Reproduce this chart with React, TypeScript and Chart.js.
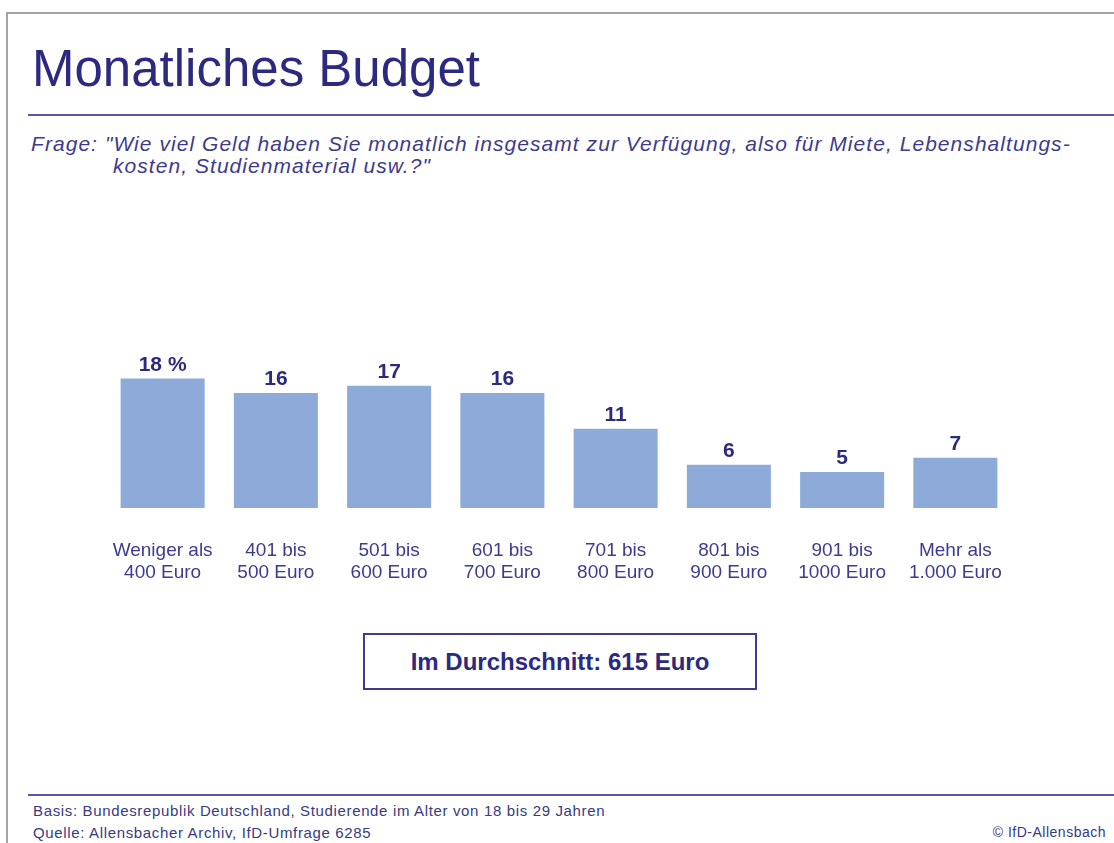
import React, { useEffect, useRef } from "react";
import { Chart, registerables } from "chart.js";

Chart.register(...registerables);

const categories: string[][] = [
  ["Weniger als", "400 Euro"],
  ["401 bis", "500 Euro"],
  ["501 bis", "600 Euro"],
  ["601 bis", "700 Euro"],
  ["701 bis", "800 Euro"],
  ["801 bis", "900 Euro"],
  ["901 bis", "1000 Euro"],
  ["Mehr als", "1.000 Euro"],
];
const shares: number[] = [18, 16, 17, 16, 11, 6, 5, 7];
const valueLabels: string[] = ["18 %", "16", "17", "16", "11", "6", "5", "7"];

const TITLE = "Monatliches Budget";
const QUESTION_1 = 'Frage:  "Wie viel Geld haben Sie monatlich insgesamt zur Verfügung, also für Miete, Lebenshaltungs-';
const QUESTION_2 = 'kosten, Studienmaterial usw.?"';
const AVERAGE = "Im Durchschnitt: 615 Euro";
const BASIS = "Basis: Bundesrepublik Deutschland, Studierende im Alter von 18 bis 29 Jahren";
const SOURCE = "Quelle: Allensbacher Archiv, IfD-Umfrage 6285";
const COPY = "© IfD-Allensbach";

const BAR_COLOR = "#8DAAD9";
const TEXT_DARK = "#2c2a80";
const TEXT_MID = "#3d3b8e";
const LINE_COLOR = "#5a56a6";
const FONT = '"Liberation Sans", Arial, sans-serif';

const valueLabelPlugin = {
  id: "valueLabels",
  afterDatasetsDraw(chart: any) {
    const meta = chart.getDatasetMeta(0);
    const ctx = chart.ctx;
    ctx.save();
    ctx.font = `bold 21px ${FONT}`;
    ctx.fillStyle = TEXT_DARK;
    ctx.textAlign = "center";
    ctx.textBaseline = "alphabetic";
    meta.data.forEach((el: any, i: number) => {
      ctx.fillText(valueLabels[i], el.x, el.y - 8);
    });
    ctx.restore();
  },
};

function BarChart() {
  const ref = useRef<HTMLCanvasElement | null>(null);
  useEffect(() => {
    if (!ref.current) return;
    const chart = new Chart(ref.current, {
      type: "bar",
      data: {
        labels: categories,
        datasets: [
          {
            data: shares,
            backgroundColor: BAR_COLOR,
            borderWidth: 0,
            barPercentage: 0.742,
            categoryPercentage: 1,
          },
        ],
      },
      options: {
        responsive: false,
        animation: false,
        devicePixelRatio: 1,
        layout: { padding: { left: 106, right: 102, top: 0, bottom: 0 } },
        plugins: {
          legend: { display: false },
          tooltip: { enabled: false },
          title: { display: false },
        },
        scales: {
          x: {
            grid: { display: false, drawTicks: false },
            border: { display: false },
            ticks: {
              padding: 32,
              color: TEXT_MID,
              font: { family: FONT, size: 19, lineHeight: 1.16 },
              maxRotation: 0,
              autoSkip: false,
            },
            afterFit: (scale: any) => {
              scale.height = 100;
            },
          },
          y: {
            display: false,
            min: 0,
            max: 27.8,
          },
        },
      },
      plugins: [valueLabelPlugin],
    });
    return () => chart.destroy();
  }, []);
  return (
    <canvas
      ref={ref}
      width={1114}
      height={300}
      style={{ position: "absolute", left: 0, top: 308, width: 1114, height: 300 }}
    />
  );
}

export default function App() {
  const abs = (s: React.CSSProperties): React.CSSProperties => ({ position: "absolute", whiteSpace: "nowrap", ...s });
  return (
    <div
      style={{
        position: "fixed",
        left: 0,
        top: 0,
        width: 1114,
        height: 843,
        overflow: "hidden",
        background: "#fff",
        fontFamily: FONT,
      }}
    >
      <div style={abs({ left: 6, top: 12, width: 1300, height: 1000, border: "2px solid #a3a3a3" })} />
      <div style={abs({ left: 32, top: 43, fontSize: 51, lineHeight: "52px", color: TEXT_DARK })}>{TITLE}</div>
      <div style={abs({ left: 28, top: 114, width: 1100, height: 2, background: LINE_COLOR })} />
      <div
        style={abs({
          left: 31,
          top: 133,
          fontSize: 21,
          lineHeight: "21px",
          letterSpacing: "1.05px",
          fontStyle: "italic",
          color: TEXT_MID,
        })}
      >
        {QUESTION_1}
      </div>
      <div
        style={abs({
          left: 113,
          top: 155,
          fontSize: 21,
          lineHeight: "21px",
          letterSpacing: "1.05px",
          fontStyle: "italic",
          color: TEXT_MID,
        })}
      >
        {QUESTION_2}
      </div>
      <BarChart />
      <div
        style={abs({
          left: 363,
          top: 633,
          width: 394,
          height: 57,
          boxSizing: "border-box",
          border: "2px solid #3f3c8c",
          display: "flex",
          alignItems: "center",
          justifyContent: "center",
          fontSize: 24,
          fontWeight: "bold",
          color: TEXT_DARK,
        })}
      >
        {AVERAGE}
      </div>
      <div style={abs({ left: 28, top: 794, width: 1100, height: 2, background: LINE_COLOR })} />
      <div style={abs({ left: 33, top: 803, fontSize: 15, lineHeight: "15px", letterSpacing: "0.65px", color: "#363a82" })}>
        {BASIS}
      </div>
      <div style={abs({ left: 33, top: 825, fontSize: 15, lineHeight: "15px", letterSpacing: "0.65px", color: "#363a82" })}>
        {SOURCE}
      </div>
      <div style={abs({ right: 8, top: 825, fontSize: 14, lineHeight: "15px", letterSpacing: "0.5px", color: "#363a82" })}>
        {COPY}
      </div>
    </div>
  );
}
